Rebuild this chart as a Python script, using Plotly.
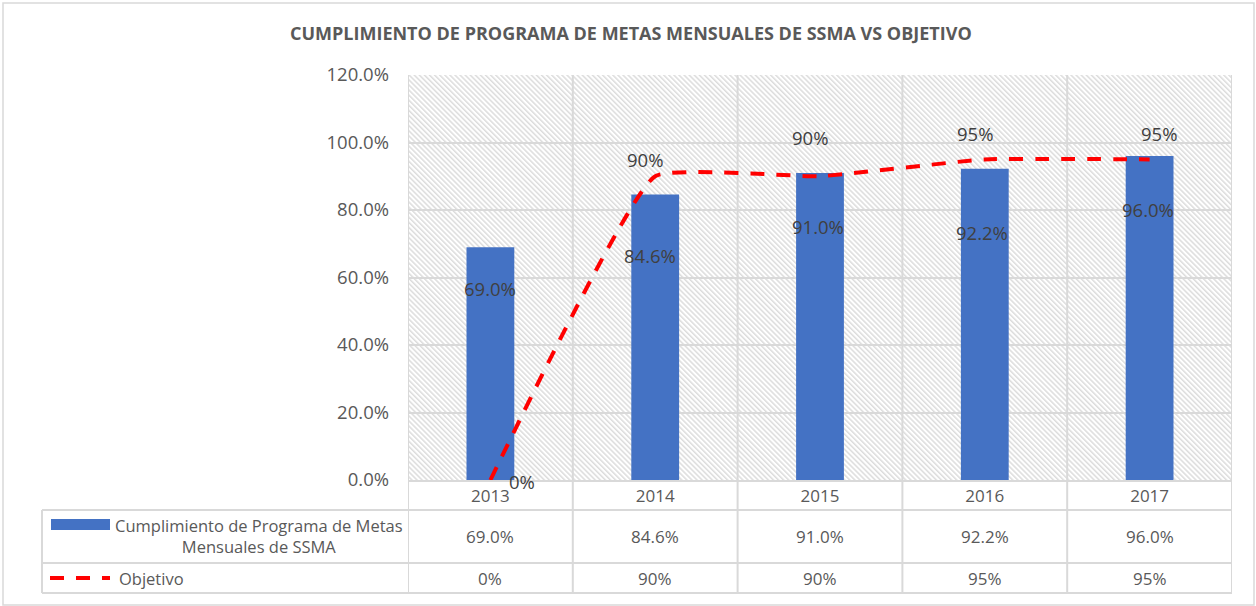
import base64
import plotly.graph_objects as go

# ---------------- data ----------------
years = ["2013", "2014", "2015", "2016", "2017"]
cumplimiento = [0.690, 0.846, 0.910, 0.922, 0.960]
objetivo = [0.00, 0.90, 0.90, 0.95, 0.95]
cumplimiento_labels = ["69.0%", "84.6%", "91.0%", "92.2%", "96.0%"]
objetivo_labels = ["0%", "90%", "90%", "95%", "95%"]
series_names = ["Cumplimiento de Programa de Metas<br>Mensuales de SSMA", "Objetivo"]
title_text = "CUMPLIMIENTO DE PROGRAMA DE METAS MENSUALES DE SSMA VS OBJETIVO"

# ---------------- layout constants ----------------
W, H = 1256, 606
L, R, T, B = 408, 1232, 75, 480
PW, PH = R - L, B - T
YMAX = 1.2
FONT = "Open Sans"
GRID = "#d9d9d9"
TXT = "#595959"
LBL = "#404040"
BLUE = "#4472C4"
RED = "#FF0000"

def px(xp):
    return (xp - L) / PW

def py(yp):
    return (B - yp) / PH

xs = list(range(len(years)))

# hand-placed label offsets (x in categories, y in value units)
bar_lbl_y = [0.566, 0.664, 0.750, 0.732, 0.800]
bar_lbl_dx = [0.0, -0.03, -0.01, -0.02, -0.01]
obj_lbl_y = [-0.003, 0.951, 1.016, 1.028, 1.028]
obj_lbl_dx = [0.19, -0.06, -0.06, -0.06, 0.06]

fig = go.Figure()
fig.add_trace(go.Bar(x=xs, y=cumplimiento, width=0.29, marker=dict(color=BLUE, line=dict(width=0)),
                     name="Cumplimiento", showlegend=False, hoverinfo="skip"))
fig.add_trace(go.Scatter(x=xs, y=objetivo, mode="lines",
                         line=dict(color=RED, width=4, dash="14px,12px", shape="spline", smoothing=0.35),
                         name="Objetivo", showlegend=False, hoverinfo="skip"))

ann = []
def add_text(x, y, text, xref, size, color, xanchor="center", align="center"):
    ann.append(dict(x=x, y=y, xref=xref, yref="paper", text=text, showarrow=False,
                    xanchor=xanchor, yanchor="middle", align=align,
                    font=dict(family=FONT, size=size, color=color)))

for i in xs:
    add_text(i + bar_lbl_dx[i], bar_lbl_y[i] / YMAX, cumplimiento_labels[i], "x", 18.5, LBL)
    add_text(i + obj_lbl_dx[i], obj_lbl_y[i] / YMAX, objetivo_labels[i], "x", 18.5, LBL)
    # data table values
    add_text(i, py(536), cumplimiento_labels[i], "x", 17, TXT)
    add_text(i, py(578), objetivo_labels[i], "x", 17, TXT)

add_text(px(259), py(536), series_names[0], "paper", 16.5, TXT)
add_text(px(117), py(578), series_names[1], "paper", 16.5, TXT, xanchor="left")
add_text(px(631), py(33), "<b>" + title_text + "</b>", "paper", 18, TXT)

shapes = []
line_style = dict(color=GRID, width=2)
# vertical lines (category boundaries through table)
for k in range(len(years) + 1):
    xv = k - 0.5
    shapes.append(dict(type="line", xref="x", yref="paper", x0=xv, x1=xv, y0=py(593), y1=1,
                       line=line_style, layer="below"))
# table left edge
shapes.append(dict(type="line", xref="paper", yref="paper", x0=px(42), x1=px(42), y0=py(593), y1=py(510),
                   line=line_style))
# table horizontal lines
for yy in (510, 563, 593):
    shapes.append(dict(type="line", xref="paper", yref="paper", x0=px(42), x1=1, y0=py(yy), y1=py(yy),
                       line=line_style))
# legend keys
shapes.append(dict(type="rect", xref="paper", yref="paper", x0=px(51), x1=px(110), y0=py(530), y1=py(519),
                   fillcolor=BLUE, line=dict(width=0)))
shapes.append(dict(type="line", xref="paper", yref="paper", x0=px(50), x1=px(110), y0=py(578), y1=py(578),
                   line=dict(color=RED, width=4, dash="14px,12px")))
# outer chart border
shapes.append(dict(type="rect", xref="paper", yref="paper", x0=px(3), x1=px(1254), y0=py(605), y1=py(3),
                   line=dict(color=GRID, width=1.5), fillcolor="rgba(0,0,0,0)"))

# hatch background for plot area
svg = (f'<svg xmlns="http://www.w3.org/2000/svg" width="{PW}" height="{PH}" viewBox="0 0 {PW} {PH}" '
       f'preserveAspectRatio="none"><defs><pattern id="p" patternUnits="userSpaceOnUse" width="3.6" height="3.6" '
       f'patternTransform="rotate(-45)"><rect width="3.6" height="3.6" fill="#ffffff"/>'
       f'<rect x="0" y="0" width="1.5" height="3.6" fill="#dcdcdc"/></pattern></defs>'
       f'<rect width="{PW}" height="{PH}" fill="url(#p)"/></svg>')
img_src = "data:image/svg+xml;base64," + base64.b64encode(svg.encode()).decode()

fig.update_layout(
    width=W, height=H,
    margin=dict(l=L, r=W - R, t=T, b=H - B),
    paper_bgcolor="white", plot_bgcolor="rgba(0,0,0,0)",
    showlegend=False,
    annotations=ann, shapes=shapes,
    images=[dict(source=img_src, xref="paper", yref="paper", x=0, y=1, sizex=1, sizey=1,
                 sizing="stretch", xanchor="left", yanchor="top", layer="below")],
    xaxis=dict(range=[-0.5, len(years) - 0.5], tickvals=xs, ticktext=years, showgrid=False,
               zeroline=False, showline=True, linecolor=GRID, linewidth=2, ticks="",
               tickfont=dict(family=FONT, size=17, color=TXT), ticklabelstandoff=0, fixedrange=True),
    yaxis=dict(range=[0, YMAX], tickvals=[0, 0.2, 0.4, 0.6, 0.8, 1.0, 1.2], tickformat=".1%",
               showgrid=True, gridcolor=GRID, gridwidth=2, zeroline=False, showline=False, ticks="",
               tickfont=dict(family=FONT, size=18.5, color=TXT), ticklabelstandoff=18, fixedrange=True),
)

fig.write_html("out.html")
